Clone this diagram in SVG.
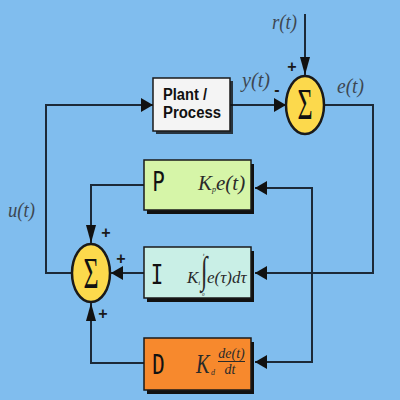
<svg xmlns="http://www.w3.org/2000/svg" width="400" height="400" viewBox="0 0 400 400">
<defs>
<style>
.bg{fill:#80bdee}
.ln{fill:none;stroke:#1c2a38;stroke-width:2}
.box{stroke:#1a1a1a;stroke-width:1.5}
.shd{fill:#111}
.sum{fill:#fcd94c;stroke:#1a1a1a;stroke-width:2.5}
.sig{font-family:"Liberation Serif",serif;font-size:26px;fill:#111;text-anchor:middle}
.lbl{font-family:"Liberation Serif",serif;font-style:italic;font-size:20px;fill:#3d4752}
.sign{font-family:"Liberation Sans",sans-serif;font-weight:bold;font-size:16px;fill:#1a1a1a;text-anchor:middle}
.plant{font-family:"Liberation Sans",sans-serif;font-weight:bold;font-size:16px;fill:#111}
.let{font-family:"DejaVu Sans Mono",monospace;font-size:26px;fill:#111;text-anchor:middle}
.math{font-family:"Liberation Serif",serif;font-style:italic;fill:#2a2a2a}
</style>
<marker id="ah" markerUnits="userSpaceOnUse" markerWidth="12" markerHeight="14" refX="12" refY="7" orient="auto">
<path d="M0,0 L12,7 L0,14 Z" fill="#111"/>
</marker>
<marker id="av" markerUnits="userSpaceOnUse" markerWidth="18" markerHeight="10" refX="18" refY="5" orient="auto">
<path d="M0,0 L18,5 L0,10 Z" fill="#111"/>
</marker>
</defs>
<rect class="bg" x="0" y="0" width="400" height="400"/>

<g id="connectors">
<path class="ln" d="M305,14 V75" marker-end="url(#av)"/>
<path class="ln" d="M230,105 H286" marker-end="url(#ah)"/>
<path class="ln" d="M324,105 H373 V273 H255" marker-end="url(#ah)"/>
<path class="ln" d="M312,273 V188 H255" marker-end="url(#ah)"/>
<path class="ln" d="M312,273 V362 H255" marker-end="url(#ah)"/>
<path class="ln" d="M144,185 H91 V243" marker-end="url(#av)"/>
<path class="ln" d="M144,273 H111" marker-end="url(#ah)"/>
<path class="ln" d="M144,363 H91 V303" marker-end="url(#av)"/>
<path class="ln" d="M71,273 H46 V105 H153" marker-end="url(#ah)"/>
</g>

<g id="labels">
<text class="lbl" x="272" y="29" textLength="25" lengthAdjust="spacingAndGlyphs">r(t)</text>
<text class="lbl" x="242" y="87" textLength="28" lengthAdjust="spacingAndGlyphs">y(t)</text>
<text class="lbl" x="337" y="93" textLength="27" lengthAdjust="spacingAndGlyphs">e(t)</text>
<text class="lbl" x="8" y="217" textLength="27" lengthAdjust="spacingAndGlyphs">u(t)</text>
<text class="sign" x="292" y="72">+</text>
<text class="sign" x="277" y="95">-</text>
<text class="sign" x="106" y="238">+</text>
<text class="sign" x="121" y="264">+</text>
<text class="sign" x="103" y="319">+</text>
</g>

<g id="plant">
<rect class="shd" x="156" y="81" width="77" height="53" fill-opacity="0.8"/>
<rect class="box" x="153" y="78" width="77" height="53" fill="#f4f4f4"/>
<text class="plant"><tspan x="163" y="100" textLength="44" lengthAdjust="spacingAndGlyphs">Plant /</tspan><tspan x="163" y="118" textLength="58" lengthAdjust="spacingAndGlyphs">Process</tspan></text>
</g>

<g id="sum-error">
<ellipse class="sum" cx="305" cy="105" rx="19" ry="29"/>
<text class="sig" transform="translate(305,119) scale(1,1.7)">Σ</text>
</g>

<g id="sum-output">
<ellipse class="sum" cx="91" cy="273" rx="19" ry="29"/>
<text class="sig" transform="translate(91,288) scale(1,1.7)">Σ</text>
</g>

<g id="p-block">
<rect class="shd" x="147" y="164" width="107" height="50"/>
<rect class="box" x="144" y="160" width="107" height="50" fill="#d6f5a8"/>
<text class="let" transform="translate(158.5,191) scale(0.8,1)">P</text>
<text class="math" x="198" y="190" font-size="21">K<tspan font-size="8" dy="2">p</tspan><tspan font-size="21" dy="-2">e(t)</tspan></text>
</g>

<g id="i-block">
<rect class="shd" x="147" y="251" width="107" height="51"/>
<rect class="box" x="144" y="247" width="107" height="51" fill="#c9efe6"/>
<text class="let" transform="translate(157,284) scale(0.8,1)">I</text>
<text class="math" x="187" y="283" font-size="17">K<tspan font-size="7" dy="2">i</tspan></text>
<text class="math" transform="translate(204,283) scale(1,1.6)" font-size="24" text-anchor="middle" font-style="normal">∫</text>
<text class="math" x="203" y="256" font-size="5">t</text>
<text class="math" x="202" y="296" font-size="5">0</text>
<text class="math" x="207" y="283" font-size="17">e(τ)dτ</text>
</g>

<g id="d-block">
<rect class="shd" x="147" y="342" width="107" height="52"/>
<rect class="box" x="144" y="338" width="107" height="52" fill="#f7892d"/>
<text class="let" transform="translate(158.5,374) scale(0.8,1)">D</text>
<text class="math" transform="translate(196,373) scale(0.75,1)" font-size="27">K</text>
<text class="math" x="211" y="375" font-size="8">d</text>
<text class="math" x="231.5" y="358" font-size="14" text-anchor="middle">de(t)</text>
<line x1="218" y1="361.5" x2="245" y2="361.5" stroke="#2a2a2a" stroke-width="1"/>
<text class="math" x="230" y="374" font-size="14" text-anchor="middle">dt</text>
</g>
</svg>
